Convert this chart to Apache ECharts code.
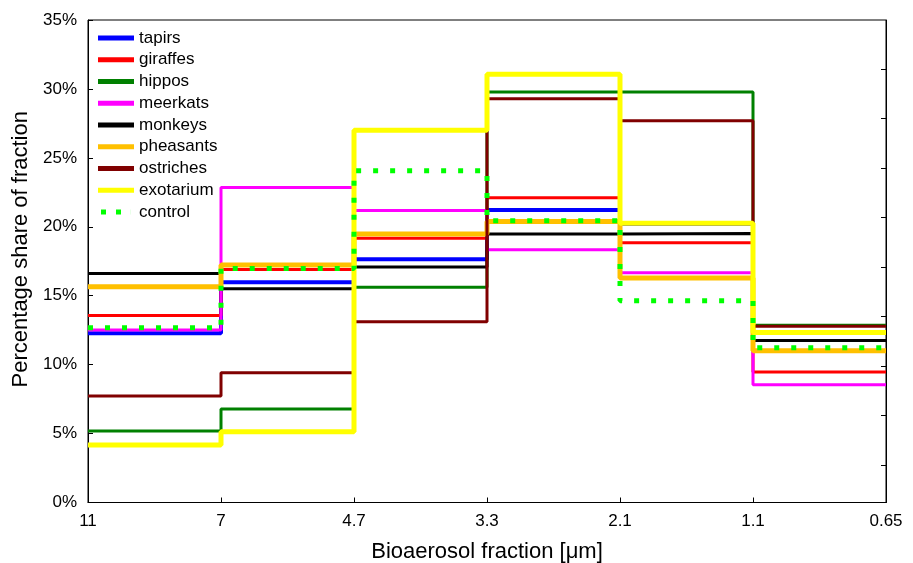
<!DOCTYPE html>
<html>
<head>
<meta charset="utf-8">
<script src="https://cdn.jsdelivr.net/npm/echarts@6/dist/echarts.min.js"></script>
<style>
  html, body { margin: 0; padding: 0; background: #fff; }
  #chart { width: 913px; height: 563px; }
</style>
</head>
<body>
<div id="chart"></div>
<script>
  // bin edges along the x axis (size fractions, µm)
  var edges = ['11', '7', '4.7', '3.3', '2.1', '1.1', '0.65'];

  // percentage share per bin (6 bins)
  var tapirs    = [12.27, 15.97, 17.64, 21.21, 20.2, 12.3];
  var giraffes  = [13.57, 16.91, 19.16, 22.10, 18.84, 9.46];
  var hippos    = [5.18, 6.78, 15.61, 29.77, 29.77, 12.85];
  var meerkats  = [12.51, 22.85, 21.19, 18.33, 16.66, 8.54];
  var monkeys   = [16.62, 15.50, 17.08, 19.47, 19.52, 11.76];
  var pheasants = [15.65, 17.22, 19.47, 20.38, 16.28, 11.01];
  var ostriches = [7.72, 9.41, 13.11, 29.28, 27.69, 12.78];
  var exotarium = [4.17, 5.13, 27.01, 31.07, 20.25, 12.34];
  var control   = [12.68, 16.98, 24.06, 20.44, 14.63, 11.23];

  // right-hand axis tick marks (no labels)
  var rightTicks = [2.72, 6.35, 9.9, 13.52, 17.08, 20.7, 24.26, 27.88, 31.44];

  var font = 'Liberation Sans, Arial, sans-serif';
  // two squares for the dotted legend key
  var dotIcon = 'path://M0,0h6v6h-6z M18,0h6v6h-6z M35.9,0h0.1v6h-0.1z';

  function steps(vals) {
    var out = [];
    for (var i = 0; i < vals.length; i++) out.push([i, vals[i]]);
    out.push([vals.length, vals[vals.length - 1]]);
    return out;
  }

  function mk(name, vals, color, width, dash) {
    return {
      name: name,
      type: 'line',
      step: 'end',
      symbol: 'none',
      animation: false,
      data: steps(vals),
      lineStyle: { color: color, width: width, type: dash || 'solid', cap: 'butt' },
      itemStyle: { color: color }
    };
  }

  var names = ['tapirs', 'giraffes', 'hippos', 'meerkats', 'monkeys', 'pheasants', 'ostriches', 'exotarium', 'control'];
  var legendData = names.map(function (n) {
    return { name: n, icon: n === 'control' ? dotIcon : 'rect' };
  });

  var chart = echarts.init(document.getElementById('chart'));
  var option = {
    animation: false,
    backgroundColor: '#fff',
    grid: {
      left: 88, right: 27, top: 20, bottom: 60.5,
      outerBoundsMode: 'none',
      show: true, borderColor: '#000', borderWidth: 1
    },
    legend: {
      orient: 'vertical',
      left: 98, top: 29, padding: 0,
      itemWidth: 36, itemHeight: 5, itemGap: 3.75,
      textStyle: { fontFamily: font, fontSize: 17, color: '#000', lineHeight: 18 },
      data: legendData
    },
    xAxis: {
      type: 'value',
      min: 0, max: 6, interval: 1,
      name: 'Bioaerosol fraction [\u03bcm]',
      nameLocation: 'middle', nameGap: 38,
      nameTextStyle: { fontFamily: font, fontSize: 22, color: '#000' },
      axisLine: { lineStyle: { color: '#000', width: 1 } },
      axisTick: { inside: true, length: 5, lineStyle: { color: '#000' } },
      axisLabel: {
        fontFamily: font, fontSize: 17, color: '#000', margin: 10,
        formatter: function (v) { return edges[v]; }
      },
      splitLine: { show: false }
    },
    yAxis: [{
      type: 'value',
      min: 0, max: 35, interval: 5,
      name: 'Percentage share of fraction',
      nameLocation: 'middle', nameGap: 52,
      nameTextStyle: { fontFamily: font, fontSize: 22, color: '#000', padding: [0, 0, 0, 24] },
      axisLine: { show: true, lineStyle: { color: '#000', width: 1 } },
      axisTick: { inside: true, length: 5, lineStyle: { color: '#000' } },
      axisLabel: {
        fontFamily: font, fontSize: 17, color: '#000', margin: 11,
        formatter: '{value}%'
      },
      splitLine: { show: false }
    }, {
      type: 'value',
      position: 'right',
      min: 0, max: 35,
      axisLine: { show: true, lineStyle: { color: '#000', width: 1 } },
      axisTick: { show: true, inside: true, length: 5, customValues: rightTicks, lineStyle: { color: '#000' } },
      axisLabel: { show: false },
      splitLine: { show: false }
    }],
    series: [
      mk('tapirs', tapirs, '#0000ff', 4),
      mk('giraffes', giraffes, '#ff0000', 3),
      mk('hippos', hippos, '#008000', 3),
      mk('meerkats', meerkats, '#ff00ff', 3),
      mk('monkeys', monkeys, '#000000', 3),
      mk('pheasants', pheasants, '#ffc000', 5),
      mk('ostriches', ostriches, '#800000', 3),
      mk('exotarium', exotarium, '#ffff00', 5),
      mk('control', control, '#00ff00', 5, [5, 12])
    ]
  };
  chart.setOption(option);
</script>
</body>
</html>
